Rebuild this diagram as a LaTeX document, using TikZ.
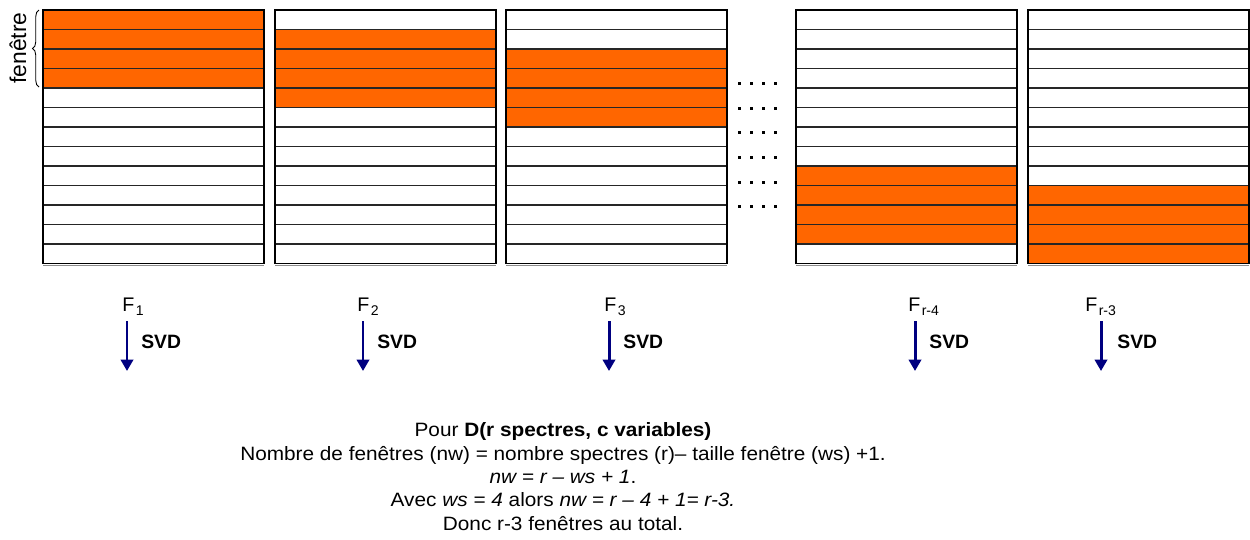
\documentclass[tikz,border=0pt]{standalone}
\usepackage{fontspec}
\setmainfont{Liberation Sans}
\newfontfamily\bottomfont[FakeStretch=1.075]{Liberation Sans}
\usetikzlibrary{arrows.meta,decorations.pathreplacing}
\definecolor{win}{HTML}{FF6600}
\definecolor{navyarrow}{HTML}{000080}
\newcommand{\lowsub}[1]{\raisebox{-2.4pt}{\fontsize{8}{9}\selectfont #1}}
\tikzset{
  boxline/.style={draw=black, line width=0.9pt},
  rowline/.style={draw=black!85, line width=0.7pt},
  shadowline/.style={draw=black!45, line width=0.7pt},
  flabel/.style={inner sep=0pt, font=\fontsize{11.2}{13}\selectfont},
  svdlabel/.style={inner sep=0pt, font=\bfseries\fontsize{11}{13}\selectfont},
  svdarrow/.style={draw=navyarrow, line width=1.7pt, -{Triangle[width=7pt,length=6.5pt]}},
  dotsq/.style={fill=black},
}
\begin{document}
\begin{tikzpicture}[x=0.02cm,y=-0.02cm]
\useasboundingbox (0,0) rectangle (1250,539);
% columns of spectra
\foreach \x/\s in {43/0,275/1,506/2,796/8,1028/9} {
  \fill[win] (\x,{10+\s*19.5}) rectangle ({\x+221},{10+(\s+4)*19.5});
  \foreach \r in {1,...,12}
    \draw[rowline] (\x,{10+\r*19.5}) -- ({\x+221},{10+\r*19.5});
  \draw[shadowline] (\x,265.3) -- ({\x+221},265.3);
  \draw[boxline] (\x,10) rectangle ({\x+221},263.5);
}
% dots
\foreach \y in {83,108,132,157,182,206}
  \foreach \xx in {739,751,763,775}
    \fill[dotsq] ({\xx-1.5},{\y-1.5}) rectangle +(3,3);
% brace and window label
\coordinate (brb) at (39,87);
\coordinate (brt) at (39,10);
\draw[decorate, decoration={brace, amplitude=0.13cm}, line width=0.5pt] (brb) -- (brt);
\node[rotate=90, inner sep=0pt, font=\fontsize{13}{15}\selectfont] (fen) at (18,48) {fenêtre};
% labels and arrows
\foreach \n/\fx/\ax/\sx/\sub in {1/122/127/141/1, 2/357/363/377/2, 3/604/609/623/3, 4/908/915/929/r-4, 5/1085/1101/1117/r-3} {
  \node[flabel, anchor=base west] (F\n) at (\fx,311) {F\kern0.8pt\lowsub{\sub}};
  \coordinate (at\n) at (\ax,321);
  \coordinate (ab\n) at (\ax,371);
  \draw[svdarrow] (at\n) -- (ab\n);
  \node[svdlabel, anchor=west] (S\n) at (\sx,342) {SVD};
}
% explanation
\node[align=center, inner sep=0pt, font=\bottomfont\fontsize{11}{13.3}\selectfont] (expl) at (563,476.5)
{Pour \textbf{D(r spectres, c variables)}\\
Nombre de fenêtres (nw) = nombre spectres (r)– taille fenêtre (ws) +1.\\
\textit{nw = r – ws + 1}.\\
Avec \textit{ws = 4} alors \textit{nw = r – 4 + 1= r-3.}\\
Donc r-3 fenêtres au total.};
\end{tikzpicture}
\end{document}
